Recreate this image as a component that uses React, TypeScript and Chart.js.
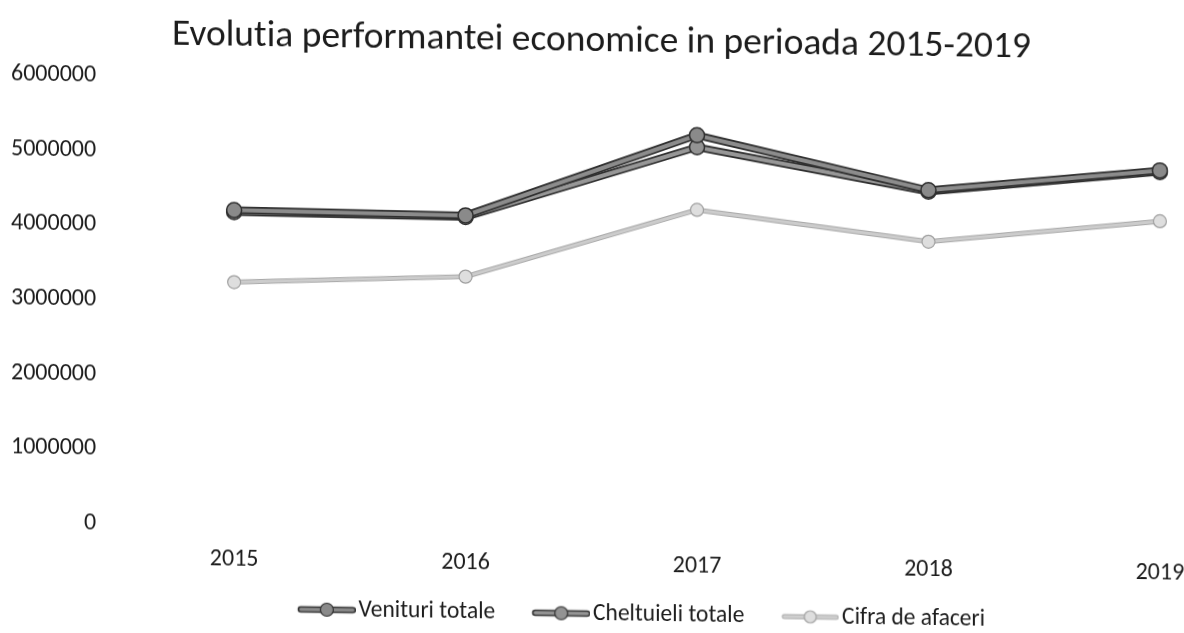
import React, { useEffect, useRef } from "react";
import { Chart, registerables } from "chart.js";

Chart.register(...registerables);

const years = ["2015", "2016", "2017", "2018", "2019"];
const venituri = [4225000, 4200000, 5320000, 4630000, 4940000];
const cheltuieli = [4200000, 4180000, 5160000, 4610000, 4920000];
const cifra = [3260000, 3380000, 4320000, 3940000, 4260000];
const seriesNames = ["Venituri totale", "Cheltuieli totale", "Cifra de afaceri"];
const chartTitle = "Evolutia performantei economice in perioada 2015-2019";
const yMin = 0;
const yMax = 6000000;
const yStep = 1000000;

const FONT = "Carlito, Lato, 'Open Sans', sans-serif";
const W = 1184;
const H = 633;
const LEGEND_FONT = 23.5;
const LEGEND_BOX = 67;

function makeSymbol(line: string, outline: string, fill: string, stroke: string, lw: number, ow: number, r: number) {
  // visible symbol (58px) sits at the right end of the image
  const c = document.createElement("canvas");
  c.width = Math.round(LEGEND_BOX + LEGEND_FONT - 6);
  c.height = 18;
  const x0 = c.width - 58;
  const ctx = c.getContext("2d")!;
  ctx.lineCap = "round";
  ctx.strokeStyle = outline;
  ctx.lineWidth = ow;
  ctx.beginPath();
  ctx.moveTo(x0 + 3, 9);
  ctx.lineTo(x0 + 55, 9);
  ctx.stroke();
  ctx.strokeStyle = line;
  ctx.lineWidth = lw;
  ctx.beginPath();
  ctx.moveTo(x0 + 3, 9);
  ctx.lineTo(x0 + 55, 9);
  ctx.stroke();
  ctx.fillStyle = fill;
  ctx.strokeStyle = stroke;
  ctx.lineWidth = 1.2;
  ctx.beginPath();
  ctx.arc(x0 + 29, 9, r, 0, Math.PI * 2);
  ctx.fill();
  ctx.stroke();
  return c;
}

const outlinePlugin = {
  id: "lineOutline",
  afterUpdate(chart: any) {
    const lg = chart.legend;
    if (lg) {
      lg.left += 47;
      lg.right += 47;
      lg.top += 3;
      lg.bottom += 3;
    }
    const tb = chart.titleBlock;
    if (tb) {
      tb.left += 16;
      tb.right += 16;
    }
  },
  beforeDraw(chart: any) {
    try {
      chart.ctx.textRendering = "optimizeSpeed";
    } catch (e) {}
  },
  beforeDatasetDraw(chart: any, args: any) {
    const ds = chart.data.datasets[args.index];
    if (!ds.outlineColor) return;
    const pts = args.meta.data;
    const ctx = chart.ctx;
    ctx.save();
    ctx.strokeStyle = ds.outlineColor;
    ctx.lineWidth = ds.outlineWidth;
    ctx.lineJoin = "round";
    ctx.lineCap = "round";
    ctx.beginPath();
    pts.forEach((p: any, i: number) => (i ? ctx.lineTo(p.x, p.y) : ctx.moveTo(p.x, p.y)));
    ctx.stroke();
    ctx.restore();
  },
};

export default function App() {
  const ref = useRef<HTMLCanvasElement | null>(null);

  useEffect(() => {
    if (!ref.current) return;
    const symbols = [
      makeSymbol("#8c8c8c", "#2f2f2f", "#8a8a8a", "#2f2f2f", 3.5, 6.5, 6.5),
      makeSymbol("#979797", "#2f2f2f", "#939393", "#2f2f2f", 3.5, 6.5, 6.5),
      makeSymbol("#cfcfcf", "#a9a9a9", "#dedede", "#a0a0a0", 3, 5, 6),
    ];
    const chart = new Chart(ref.current, {
      type: "line",
      data: {
        labels: years,
        datasets: [
          {
            label: seriesNames[0],
            data: venituri,
            borderColor: "#8c8c8c",
            borderWidth: 4,
            outlineColor: "#2f2f2f",
            outlineWidth: 7.5,
            pointRadius: 7.5,
            pointBackgroundColor: "#8a8a8a",
            pointBorderColor: "#2f2f2f",
            pointBorderWidth: 1.5,
            tension: 0,
          } as any,
          {
            label: seriesNames[1],
            data: cheltuieli,
            borderColor: "#979797",
            borderWidth: 4,
            outlineColor: "#2f2f2f",
            outlineWidth: 7.5,
            pointRadius: 7.5,
            pointBackgroundColor: "#939393",
            pointBorderColor: "#2f2f2f",
            pointBorderWidth: 1.5,
            tension: 0,
          } as any,
          {
            label: seriesNames[2],
            data: cifra,
            borderColor: "#cccccc",
            borderWidth: 3,
            outlineColor: "#a9a9a9",
            outlineWidth: 5,
            pointRadius: 6.5,
            pointBackgroundColor: "#dedede",
            pointBorderColor: "#9f9f9f",
            pointBorderWidth: 1.2,
            tension: 0,
          } as any,
        ],
      },
      options: {
        animation: false,
        responsive: false,
        maintainAspectRatio: false,
        devicePixelRatio: 1,
        layout: { padding: { left: 11, right: 24, top: 0, bottom: 8.5 } },
        plugins: {
          title: {
            display: true,
            text: chartTitle,
            color: "#1c1c1c",
            font: { family: FONT, size: 37.5, weight: "normal" },
            padding: { top: 11.5, bottom: 18.5 },
          },
          legend: {
            position: "bottom",
            labels: {
              usePointStyle: true,
              pointStyleWidth: LEGEND_BOX,
              padding: 19,
              color: "#1c1c1c",
              font: { family: FONT, size: LEGEND_FONT },
              generateLabels: () =>
                seriesNames.map((name, i) => ({
                  text: name,
                  pointStyle: symbols[i] as any,
                  datasetIndex: i,
                  hidden: false,
                  fillStyle: "transparent",
                  strokeStyle: "transparent",
                  lineWidth: 0,
                  fontColor: "#1c1c1c",
                })),
            },
          },
          tooltip: { enabled: false },
        },
        scales: {
          x: {
            offset: false,
            grid: { display: false, drawTicks: false },
            border: { display: false },
            ticks: { color: "#1c1c1c", font: { family: FONT, size: 24 }, padding: 20, maxRotation: 0 },
            afterFit: (s: any) => {
              s.paddingLeft = 0;
              s.paddingRight = 0;
              s.height = 49;
            },
          },
          y: {
            min: yMin,
            max: yMax,
            weight: 2,
            grid: { display: false, drawTicks: false },
            border: { display: false },
            ticks: {
              stepSize: yStep,
              color: "#1c1c1c",
              font: { family: FONT, size: 24 },
              padding: 0,
              callback: (v: any) => String(v),
            },
            afterFit: (s: any) => {
              s.paddingTop = 0;
              s.paddingBottom = 0;
            },
          },
          ySpacer: {
            position: "left",
            weight: 1,
            display: true,
            grid: { display: false, drawTicks: false },
            border: { display: false },
            ticks: { display: false },
            afterFit: (s: any) => {
              s.width = 138;
              s.paddingTop = 0;
              s.paddingBottom = 0;
            },
          } as any,
        },
      },
      plugins: [outlinePlugin],
    });
    return () => chart.destroy();
  }, []);

  return (
    <div
      style={{
        position: "fixed",
        left: 0,
        top: 0,
        width: W,
        height: H,
        background: "#fff",
        transform: "skewY(0.85deg)",
        transformOrigin: "60px 300px",
      }}
    >
      <canvas ref={ref} width={W} height={H} style={{ display: "block", width: W, height: H }} />
    </div>
  );
}
